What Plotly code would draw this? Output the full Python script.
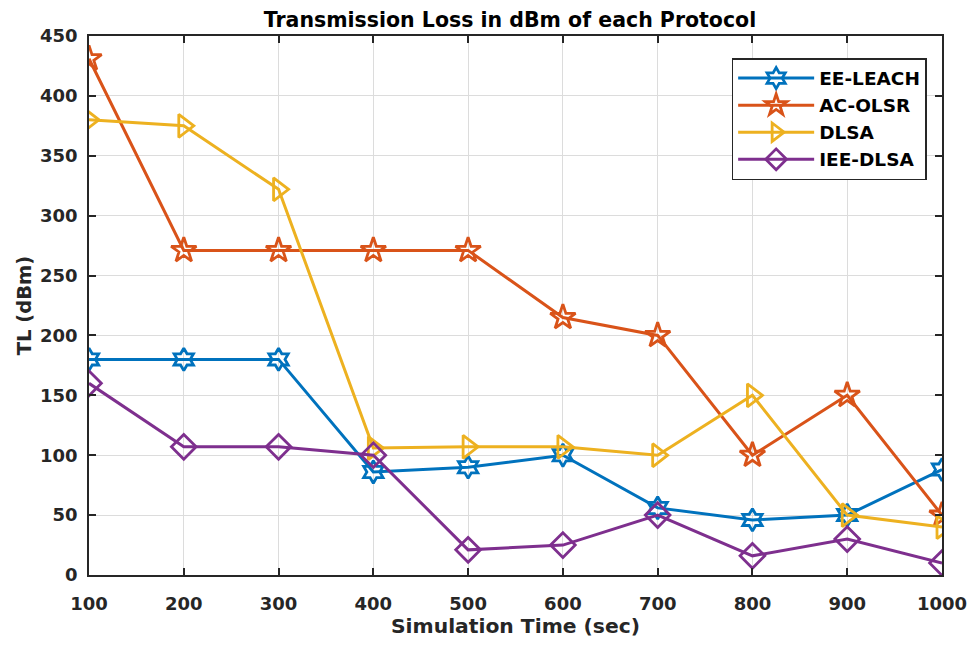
import plotly.graph_objects as go

# Simulation time (sec)
sim_time = [100, 200, 300, 400, 500, 600, 700, 800, 900, 1000]

# Transmission loss (dBm) per protocol
ee_leach = [180, 180, 180, 86, 90, 100, 56, 46, 50, 88]
ac_olsr = [431, 271, 271, 271, 271, 215, 200, 100, 150, 50]
dlsa = [380, 375, 322, 106, 107, 107, 100, 150, 50, 40]
iee_dlsa = [160, 107, 107, 100, 21, 25, 50, 16, 30, 10]

series = [
    ("EE-LEACH", ee_leach, "#0072BD", "hexagram-open", 17),
    ("AC-OLSR", ac_olsr, "#D95319", "star-open", 19),
    ("DLSA", dlsa, "#EDB120", "triangle-right-open", 20),
    ("IEE-DLSA", iee_dlsa, "#7E2F8E", "diamond-open", 19),
]

fig = go.Figure()
for name, vals, color, symbol, size in series:
    fig.add_trace(go.Scatter(
        x=sim_time, y=vals, name=name, mode="lines+markers",
        line=dict(color=color, width=3),
        marker=dict(symbol=symbol, size=size, color=color,
                    line=dict(color=color, width=2.8)),
    ))

font_family = "DejaVu Sans, sans-serif"
axis_common = dict(
    showline=True, linecolor="#262626", linewidth=1.5, mirror="ticks",
    ticks="inside", ticklen=7, tickwidth=1.5, tickcolor="#262626",
    showgrid=True, gridcolor="#dcdcdc", gridwidth=1,
    zeroline=False,
    tickfont=dict(family=font_family, size=18, color="#262626", weight="bold"),
)

fig.update_layout(
    width=979, height=646,
    margin=dict(l=89, r=31, t=36, b=71),
    paper_bgcolor="white", plot_bgcolor="white",
    title=dict(text="<b>Transmission Loss in dBm of each Protocol</b>",
               x=510 / 979, xanchor="center", y=0.969, yanchor="middle",
               font=dict(family=font_family, size=20.5, color="black")),
    xaxis=dict(range=[100, 1000], tickvals=sim_time, ticklabelstandoff=12,
               title=dict(text="<b>Simulation Time (sec)</b>", standoff=3,
                          font=dict(family=font_family, size=20.3, color="#262626")),
               **axis_common),
    yaxis=dict(range=[0, 450], dtick=50, ticklabelstandoff=6,
               title=dict(text="<b>TL (dBm)</b>", standoff=3,
                          font=dict(family=font_family, size=19.5, color="#262626")),
               **axis_common),
    legend=dict(x=0.982, y=0.959, xanchor="right", yanchor="top",
                bgcolor="white", bordercolor="#262626", borderwidth=1.5,
                font=dict(family=font_family, size=18.5, color="black", weight="bold"),
                tracegroupgap=0, itemwidth=76),
    showlegend=True,
)

fig.write_html("out.html")
